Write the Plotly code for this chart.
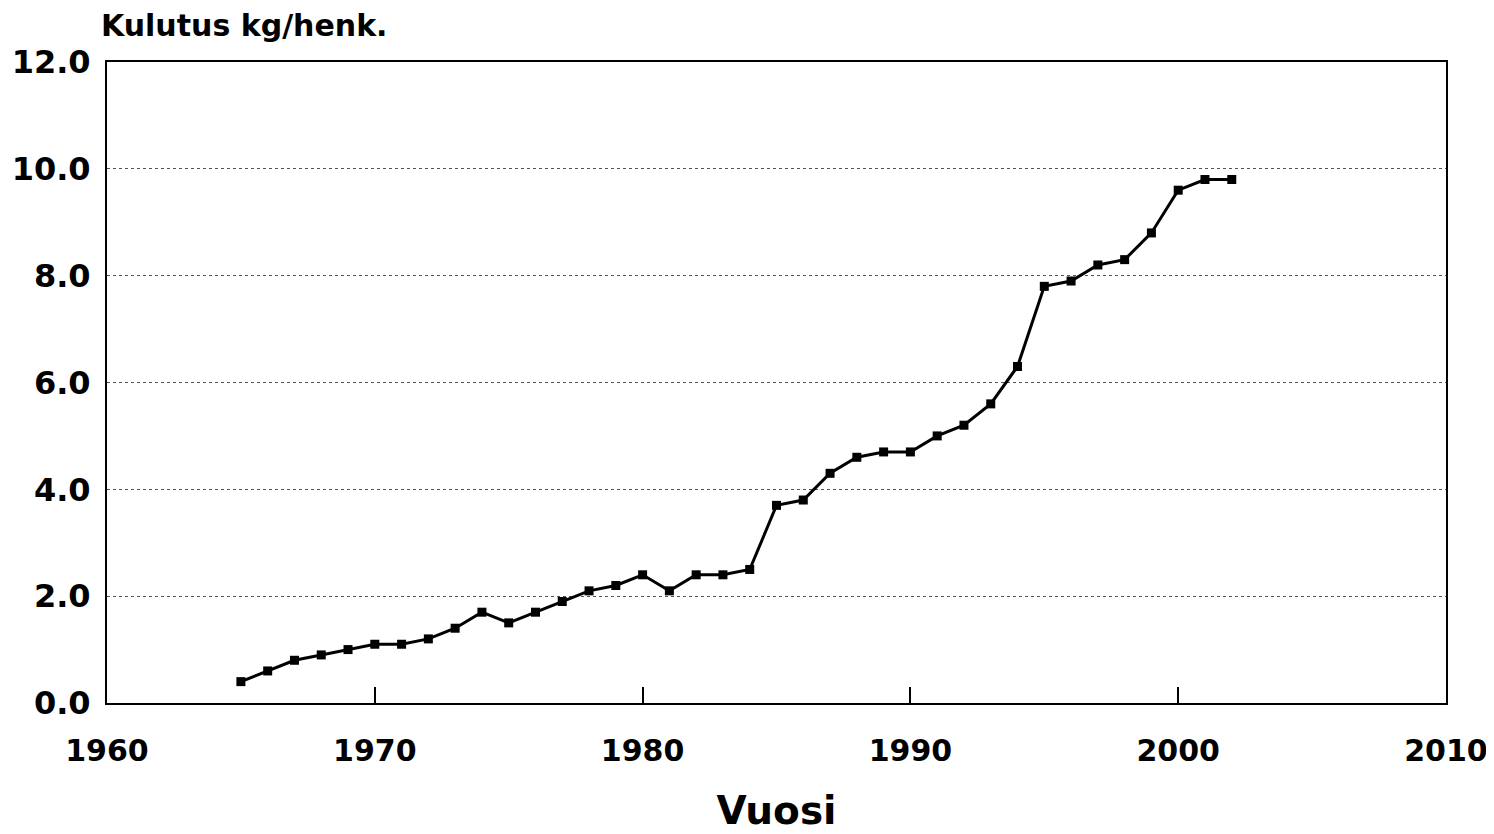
import plotly.graph_objects as go

years = list(range(1965, 2003))
consumption = [0.4, 0.6, 0.8, 0.9, 1.0, 1.1, 1.1, 1.2, 1.4, 1.7,
               1.5, 1.7, 1.9, 2.1, 2.2, 2.4, 2.1, 2.4, 2.4, 2.5,
               3.7, 3.8, 4.3, 4.6, 4.7, 4.7, 5.0, 5.2, 5.6, 6.3,
               7.8, 7.9, 8.2, 8.3, 8.8, 9.6, 9.8, 9.8]
x_ticks = [1960, 1970, 1980, 1990, 2000, 2010]
y_ticks = [0, 2, 4, 6, 8, 10, 12]

FONT = "DejaVu Sans"

fig = go.Figure()
fig.add_trace(go.Scatter(
    x=years, y=consumption, mode="lines+markers",
    line=dict(color="black", width=3),
    marker=dict(symbol="square", size=9, color="black"),
    showlegend=False, hoverinfo="x+y",
))

# page body has an 8px default margin, so the figure is sized to fit the viewport
fig.update_layout(
    width=1486, height=826,
    margin=dict(l=99, r=48, t=54, b=131),
    paper_bgcolor="white", plot_bgcolor="white",
    font=dict(family=FONT, color="black"),
    xaxis=dict(
        range=[1960, 2010], tickvals=x_ticks, ticktext=[str(v) for v in x_ticks],
        showgrid=False, zeroline=False, automargin=False,
        showline=True, linecolor="black", linewidth=2, mirror=True,
        ticks="inside", ticklen=16, tickwidth=2, tickcolor="black",
        ticklabelstandoff=20,
        tickfont=dict(family=FONT, size=30, weight="bold", color="black"),
        title=dict(text="Vuosi", font=dict(family=FONT, size=39, weight="bold", color="black"), standoff=30),
    ),
    yaxis=dict(
        range=[0, 12], tickvals=y_ticks, tickformat=".1f",
        showgrid=True, gridcolor="#555555", griddash="dot", gridwidth=1,
        zeroline=False, automargin=False,
        showline=True, linecolor="black", linewidth=2, mirror=True,
        ticks="", ticklabelstandoff=8,
        tickfont=dict(family=FONT, size=32, weight="bold", color="black"),
    ),
    annotations=[dict(
        text="Kulutus kg/henk.", xref="paper", yref="paper",
        x=-0.006, y=1.0, xanchor="left", yanchor="bottom", yshift=17,
        showarrow=False,
        font=dict(family=FONT, size=30, weight="bold", color="black"),
    )],
)

fig.write_html("out.html")
